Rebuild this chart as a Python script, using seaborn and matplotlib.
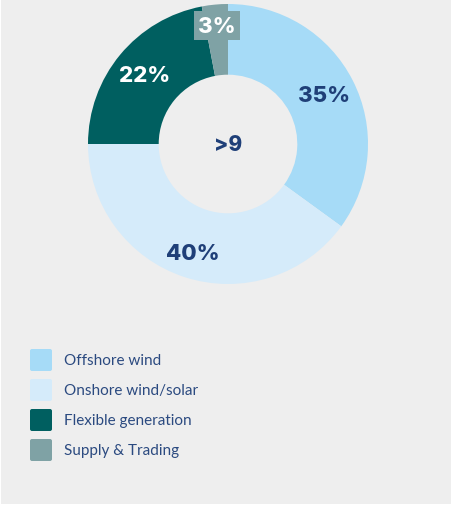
import matplotlib
matplotlib.use("Agg")
import matplotlib.pyplot as plt
from matplotlib.patches import FancyBboxPatch, Rectangle
import numpy as np
import seaborn as sns

# Portfolio split (%)
segments = ["Offshore wind", "Onshore wind/solar", "Flexible generation", "Supply & Trading"]
shares = [35, 40, 22, 3]
center_label = ">9"

seg_colors = ["#a6dbf7", "#d5ebfa", "#005f60", "#7fa2a5"]
label_colors = ["#1f3f78", "#1f3f78", "#ffffff", "#ffffff"]
label_radius = [0.77, 0.82, 0.77, 0.85]
navy = "#1f3f78"
legend_text = "#2b4a80"
bg = "#eeeeee"

sns.set_theme(style="white")
plt.rcParams["font.family"] = ["Lato", "DejaVu Sans"]
num_font = ["Inter", "DejaVu Sans"]
palette = sns.color_palette(seg_colors)

W, H = 451, 506
fig = plt.figure(figsize=(W / 100, H / 100), dpi=100)
fig.patch.set_facecolor("white")
fig.patches.append(Rectangle((1 / W, 1 / H), 1, 1, transform=fig.transFigure,
                             facecolor=bg, edgecolor="none", zorder=-10))

# Donut
cx, cy, r = 228, 145, 140
ax = fig.add_axes([(cx - r) / W, (H - cy - r) / H, 2 * r / W, 2 * r / H])
ax.set_facecolor("none")
wedges, _, autotexts = ax.pie(
    shares, colors=palette, startangle=90, counterclock=False,
    autopct=lambda p: f"{p:.0f}%", pctdistance=0.77,
    wedgeprops=dict(width=0.505, linewidth=0),
)
for w, t, c, rad in zip(wedges, autotexts, label_colors, label_radius):
    mid = np.deg2rad((w.theta1 + w.theta2) / 2)
    t.set_position((rad * np.cos(mid), rad * np.sin(mid)))
    t.set_color(c)
    t.set_fontsize(16)
    t.set_fontweight("heavy")
    t.set_family(num_font)

# Small slice label sits on a box of the slice colour
autotexts[-1].set_bbox(dict(boxstyle="square,pad=0.2", facecolor=seg_colors[-1],
                            edgecolor="none"))

ax.text(0, 0, center_label, ha="center", va="center", fontsize=15,
        fontweight="heavy", color=navy, family=num_font)
ax.set_xlim(-1, 1)
ax.set_ylim(-1, 1)
ax.set_aspect("equal")
ax.axis("off")

# Legend
lax = fig.add_axes([0, 0, 1, 1])
lax.set_xlim(0, W)
lax.set_ylim(H, 0)
lax.axis("off")
lax.set_facecolor("none")
y0, step, size = 361, 30, 22
for i, (name, col) in enumerate(zip(segments, seg_colors)):
    yc = y0 + i * step
    lax.add_patch(FancyBboxPatch((30 + 2, yc - size / 2 + 2), size - 4, size - 4,
                                 boxstyle="round,pad=2", facecolor=col,
                                 edgecolor="none"))
    lax.text(64, yc, name, ha="left", va="center", fontsize=11, color=legend_text)

fig.savefig("out.png", dpi=100, facecolor=fig.get_facecolor())
